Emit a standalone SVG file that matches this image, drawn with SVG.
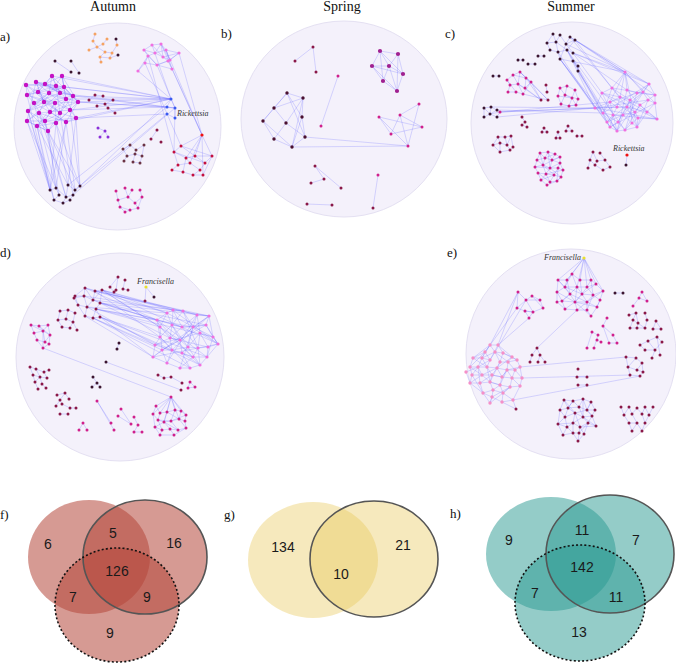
<svg xmlns="http://www.w3.org/2000/svg" width="676" height="664" viewBox="0 0 676 664">
<style>
.bg{fill:#f4f1fb;stroke:#e4e0f2;stroke-width:1}
.e{fill:none;stroke:#6767ff;stroke-opacity:.45;stroke-width:.55}
.n{fill:none;stroke-linecap:round}
.t{font-family:"Liberation Serif","Times New Roman",serif;font-size:13px;fill:#111}
.tm{font-family:"Liberation Serif","Times New Roman",serif;font-size:14px;fill:#111;text-anchor:middle}
.it{font-family:"Liberation Serif","Times New Roman",serif;font-style:italic;font-size:8px;fill:#333}
.v{font-family:"Liberation Sans",Arial,sans-serif;font-size:14px;fill:#1a1a1a;text-anchor:middle}
.mp{stroke:#c412c4;stroke-width:4.4}
.dk{stroke:#3b1530;stroke-width:3}
.br{stroke:#6b3344;stroke-width:3}
.mr{stroke:#8a1848;stroke-width:3}
.pk{stroke:#f070e0;stroke-width:3.2}
.or{stroke:#f5a262;stroke-width:3}
.rd{stroke:#c41040;stroke-width:3}
.rr{stroke:#f01010;stroke-width:3.2}
.bl{stroke:#3a5af0;stroke-width:3}
.pu{stroke:#8a30d8;stroke-width:3}
.mg{stroke:#d0208c;stroke-width:3}
.yl{stroke:#e8e030;stroke-width:3.2}
.lp{stroke:#f590c8;stroke-width:3.4}
.bp{stroke:#a02090;stroke-width:4.2}
.bd{stroke:#4a1030;stroke-width:3.4}
.f1{fill:#b5473a;fill-opacity:.55}
.y1{fill:#e8c85a;fill-opacity:.4}
.g1{fill:#2a9a92;fill-opacity:.5}
.ring{fill:none;stroke:#555;stroke-width:1.6}
.dash{fill:none;stroke:#111;stroke-width:1.6;stroke-dasharray:2 2.2}
</style>
<rect width="676" height="664" fill="#fff"/>

<g id="titles">
<text class="tm" x="113" y="11">Autumn</text>
<text class="tm" x="342" y="11">Spring</text>
<text class="tm" x="571" y="11">Summer</text>
<text class="t" x="0" y="41">a)</text>
<text class="t" x="221" y="38">b)</text>
<text class="t" x="445" y="38">c)</text>
<text class="t" x="0" y="257">d)</text>
<text class="t" x="447" y="257">e)</text>
<text class="t" x="0" y="519">f)</text>
<text class="t" x="224" y="519">g)</text>
<text class="t" x="450" y="518">h)</text>
</g>

<g id="panel-a">
<circle class="bg" cx="117.5" cy="126.5" r="103.5"/>
<g id="a-connectors">
<path class="e" d="M26,85L38,92L52,76L49,93L64,87L73,96L60,93L45,84L27,95L44,102L36,82L56,86L66,99L62,76L78,102L55,103L34,103L50,112L38,92L60,113L73,96L70,110L49,93L28,111L44,102L39,113L27,121L45,121L37,126L55,103L56,123L66,99L76,118L60,113L48,131L39,113L66,122L50,112L78,102L70,110L56,123L45,121L28,111L34,103L27,95L26,85L45,84L62,76L64,87L78,102L66,122L76,118L70,110L48,131L37,126L27,121L36,82L49,93L34,103L60,93L52,76L38,92L55,103L50,112L45,121L60,113L56,86L73,96L44,102L62,76M26,85L56,86L27,95L64,87L36,82L60,93L45,84L73,96M38,92L66,99M49,93L78,102M27,95L55,103M28,111L66,99M39,113L70,110M37,126L56,123M45,121L76,118M48,131L27,121M50,112L66,122M44,102L60,113M34,103L45,121M55,103L70,110M36,82L44,102M52,76L56,86M62,76L66,99M26,85L34,103M28,111L48,131M36,82L73,96M52,76L78,102M26,85L60,113M27,121L60,93M37,126L66,99"/>
<path class="e" d="M62,76L171,99M64,87L171,99M73,96L171,99M78,102L171,99M76,118L171,99M70,110L171,99M66,122L171,99M56,86L171,99M60,93L167,107M78,102L167,107M73,96L175,108M76,118L167,114M66,99L171,99M52,76L171,99M78,102L175,108M70,110L167,107"/>
<path class="e" d="M27,121L50,190M37,126L50,190M48,131L56,188M56,123L68,185M66,122L75,190M76,118L80,186M28,111L54,200M45,121L66,197M27,121L56,188M37,126L68,185M48,131L75,190M56,123L50,190M66,122L56,188M76,118L68,185M45,121L59,195M28,111L50,190M34,103L56,188M39,113L66,197M60,113L73,195M70,110L80,186M27,95L50,190M48,131L80,186M37,126L54,200M66,122L50,190M56,123L80,186M80,186L171,99M75,190L167,114M68,185L167,107M73,195L175,108"/>
<path class="e" d="M144,50L152,45L161,44L166,50L179,53L170,60L163,57L155,53L148,56L144,50L155,53L161,44L163,57L168,61L157,65L145,63L148,56L157,65L170,60L166,50L155,53M152,45L163,57L179,53L168,61L172,69L157,65M145,63L138,71L148,56M161,44L170,60M144,50L157,65M166,50L172,69M152,45L171,99M157,65L175,108M161,44L202,135M172,69L202,135M145,63L181,146M148,56L174,152M166,50L202,135M179,53L202,135M175,108L174,152M138,71L171,99"/>
<path class="e" d="M202,135L181,146L174,152L186,158L202,135L212,156L205,163L195,156L202,135L190,163L178,165L172,170L183,172L193,175L203,175L212,156M181,146L195,156L186,158L190,163L200,170L205,163M174,152L178,165M183,172L186,158M202,135L203,175M193,175L200,170M212,156L195,156M181,146L212,156M174,152L205,163"/>
<path class="e" d="M95,34L93,41L97,47L103,44L107,39M97,47L105,52L112,53L117,45L116,39M105,52L100,57L101,62M89,50L97,47M112,53L110,58L118,55M100,57L110,58M55,61L71,72M71,61L79,73M89,100L95,95L103,96M97,106L105,104L113,100M105,104L108,108L115,113M171,99L167,107L175,108L171,99M167,114L175,118M175,108L175,118M98,128L105,131L108,137M100,137L105,131M151,139L157,130M130,145L123,149L127,156L124,161M130,145L136,150L144,145L142,156L135,154L127,156M136,150L135,154L133,162L140,163L142,156M50,190L56,188L59,195L54,200L63,203L70,200L73,195L75,190L80,186M68,185L66,197L63,203M56,188L66,197L73,195M68,185L75,190M116,191L118,200L120,207L130,210L138,208L142,197L140,190M125,188L128,197L135,203L138,208M132,190L128,197L118,200M120,207L125,212L130,210M135,203L142,197"/>
</g>
<g id="a-nodes">
<path class="n mp" d="M26,85h0M36,82h0M45,84h0M52,76h0M62,76h0M56,86h0M64,87h0M27,95h0M38,92h0M49,93h0M60,93h0M73,96h0M34,103h0M44,102h0M55,103h0M66,99h0M78,102h0M28,111h0M39,113h0M50,112h0M60,113h0M70,110h0M27,121h0M37,126h0M45,121h0M56,123h0M66,122h0M76,118h0M48,131h0"/>
<path class="n or" d="M95,34h0M107,39h0M89,50h0M97,47h0M105,52h0M112,53h0M117,45h0M100,57h0M110,58h0M101,62h0M103,44h0M93,41h0"/>
<path class="n dk" d="M116,39h0M118,55h0M55,61h0M71,61h0M71,72h0M79,73h0M50,190h0M56,188h0M68,185h0M75,190h0M80,186h0M59,195h0M66,197h0M73,195h0M54,200h0M63,203h0M70,200h0"/>
<path class="n br" d="M123,149h0M130,145h0M136,150h0M144,145h0M127,156h0M135,154h0M142,156h0M124,161h0M133,162h0M140,163h0"/>
<path class="n mr" d="M89,100h0M95,95h0M103,96h0M113,100h0M97,106h0M105,104h0M108,108h0M115,113h0M151,139h0M157,130h0M161,142h0"/>
<path class="n pk" d="M144,50h0M152,45h0M161,44h0M166,50h0M179,53h0M148,56h0M155,53h0M163,57h0M170,60h0M145,63h0M157,65h0M168,61h0M138,71h0M172,69h0"/>
<path class="n rd" d="M181,146h0M212,156h0M174,152h0M186,158h0M195,156h0M205,163h0M178,165h0M190,163h0M200,170h0M172,170h0M183,172h0M193,175h0M203,175h0"/>
<path class="n rr" d="M202,135h0"/>
<path class="n bl" d="M171,99h0M167,107h0M175,108h0M167,114h0M175,118h0"/>
<path class="n pu" d="M98,128h0M105,131h0M100,137h0M108,137h0"/>
<path class="n mg" d="M116,191h0M125,188h0M132,190h0M140,190h0M118,200h0M128,197h0M135,203h0M142,197h0M120,207h0M130,210h0M138,208h0M125,212h0"/>
</g>
<text class="it" x="177" y="116">Rickettsia</text>
</g>

<g id="panel-b">
<ellipse class="bg" cx="344" cy="119" rx="103" ry="98"/>
<g id="b-connectors">
<path class="e" d="M313,47L295,61M313,47L316,72M338,76L321,126M380,51L398,54L403,74L397,91L383,81L372,66L380,51L389,66L397,91M372,66L389,66L403,74M380,51L383,81M398,54L389,66L383,81M372,66L397,91M398,54L397,91M372,66L403,74M380,51L403,74M287,93L303,98L302,117L305,137L292,147L274,139L263,121L287,93L274,108L303,98M263,121L274,108M287,93L305,137M303,98L292,147M303,98L286,123L274,139M274,108L286,123L305,137M263,121L292,147M302,117L292,147M287,93L302,117M419,104L400,115L391,134L379,117L408,146L400,115M379,117L422,127L391,134M419,104L408,146M400,115L422,127M305,137L408,146M292,147L408,146M315,166L341,188M315,166L324,179L311,183M307,204L332,205M378,175L373,208"/>
</g>
<g id="b-nodes">
<path class="n bp" d="M380,51h0M398,54h0M372,66h0M389,66h0M403,74h0M383,81h0M397,91h0"/>
<path class="n bd" d="M287,93h0M303,98h0M274,108h0M302,117h0M263,121h0M286,123h0M305,137h0M274,139h0M292,147h0"/>
<path class="n mr" d="M313,47h0M295,61h0M316,72h0M315,166h0M324,179h0M311,183h0M341,188h0M307,204h0M332,205h0M373,208h0"/>
<path class="n mg" d="M338,76h0M321,126h0M419,104h0M379,117h0M400,115h0M422,127h0M391,134h0M408,146h0M378,175h0"/>
</g>
</g>

<g id="panel-c">
<circle class="bg" cx="572" cy="123" r="101"/>
<g id="c-connectors">
<path class="e" d="M625,72L612,88L602,93L595,108L603,113L607,122L610,127L617,131L625,130L632,123L638,118L657,119L655,103L655,95L649,84L625,72L627,90L637,93L643,92L649,84M625,72L620,97L610,102L603,113L613,115L617,107L627,107L630,100L620,97L612,88L630,100L640,105L648,100L655,95M602,93L620,97L617,107L610,102L595,108M603,113L618,122L627,107L635,112L640,105L647,112L657,119M607,122L623,115L632,123L637,127L647,112L655,103M610,127L618,122L625,130L637,127L638,118L635,112L623,115L613,115L607,122M625,72L643,92L648,100L655,103M612,88L627,107L637,127M625,72L610,102L617,131M649,84L630,100L618,122M655,95L637,93L610,102M657,119L640,105L627,90M595,108L627,107L647,112M617,131L623,115L643,92M625,130L640,105M637,127L648,100M602,93L613,115L610,127M612,88L603,113M625,72L655,103M625,72L637,127M649,84L617,131M595,108L657,119M602,93L638,118M643,92L607,122M612,88L655,95M627,90L617,131M637,93L625,130M620,97L647,112M595,108L648,100M603,113L649,84M610,127L655,103M613,115L657,119M630,100L632,123M602,93L657,119"/>
<path class="e" d="M560,59L617,131M560,59L625,72M560,59L595,108M560,59L610,127M573,53L625,72M573,53L649,84M573,53L602,93M575,40L625,72M575,40L649,84M575,40L655,95M570,37L625,72M570,37L612,88M567,50L595,108M567,50L603,113M567,50L617,131M578,71L617,131M578,71L610,127M573,61L603,113M558,52L595,108M566,44L625,72M575,40L612,88M573,53L627,90M560,59L607,122M567,50L625,130"/>
<path class="e" d="M553,34L556,42L560,35L566,44L570,37L575,40L566,44L573,53L567,50L558,52L550,50L547,43L556,42L567,50M560,59L558,52L556,42M553,34L547,43M566,44L560,59M575,40L567,50M573,61L578,66L578,71"/>
<path class="e" d="M513,75L520,72L526,78L531,82L525,88L518,84L510,85L507,80L513,75L518,84L523,94L516,92L508,92L510,85M520,72L518,84M526,78L525,88M531,82L523,94M507,80L516,92M513,75L526,78M520,72L531,82L541,100M526,78L541,100M531,82L548,100M525,88L541,100M523,94L548,100M518,84L541,100M520,72L548,100M546,85L547,92M518,60L523,60M528,64L535,64M538,56L544,56M493,76L499,76"/>
<path class="e" d="M560,88L567,86L575,90L578,99L576,105L569,106L561,104L558,96L560,88L565,95L572,98L575,90M567,86L565,95L561,104M572,98L569,106M558,96L572,98L576,105M565,95L578,99"/>
<path class="e" d="M484,108L491,107L497,110L500,112L497,117L490,114L484,117L484,108L490,114L497,110M491,107L490,114L500,112M500,112L595,108M497,110L603,113M500,112L610,102M491,107L595,108M497,117L595,108M500,112L617,107"/>
<path class="e" d="M522,117L525,122L522,125L527,127M544,128L542,132L547,132ZM558,132L556,138L560,138ZM568,126L566,131L572,131ZM577,136L582,136M498,137L505,137L511,136L513,147L510,150L500,152L493,145L498,137L500,143L507,145L511,136M505,137L507,145L510,150M493,145L500,143L500,152"/>
<path class="e" d="M540,153L548,152L555,154L560,157L560,163L563,170L561,177L557,181L547,185L541,180L538,173L535,167L537,160L540,153L545,158L548,152L552,160L555,154M537,160L545,158L552,160L560,157M537,160L543,165L550,168L558,168L563,170M545,158L543,165L535,167M552,160L550,168L546,174L538,173M560,163L558,168L554,175L546,174L541,180M543,165L546,174L550,182L557,181L561,177L554,175L550,182M540,153L543,165L554,175M548,152L550,168L561,177M555,154L545,158M535,167L550,168M538,173L550,182M558,168L557,181M543,165L560,157M546,174L563,170M541,180L554,175M552,160L560,163L550,168"/>
<path class="e" d="M593,152L590,160L588,168M593,152L597,161L595,165L603,170L610,167L605,160L600,153M597,161L605,160M590,160L595,165M627,155L626,165"/>
</g>
<g id="c-nodes">
<path class="n pk" d="M625,72h0M649,84h0M655,95h0M655,103h0M657,119h0M638,118h0M625,130h0M617,131h0M595,108h0M602,93h0M612,88h0M627,90h0M637,93h0M630,100h0M620,97h0M610,102h0M617,107h0M627,107h0M640,105h0M648,100h0M603,113h0M613,115h0M623,115h0M635,112h0M647,112h0M607,122h0M618,122h0M632,123h0M610,127h0M637,127h0M643,92h0"/>
<path class="n dk" d="M553,34h0M560,35h0M570,37h0M547,43h0M556,42h0M566,44h0M575,40h0M550,50h0M558,52h0M567,50h0M573,53h0M560,59h0M573,61h0M578,66h0M578,71h0M518,60h0M523,60h0M528,64h0M535,64h0M538,56h0M544,56h0M493,76h0M499,76h0M484,108h0M491,107h0M497,110h0M484,117h0M490,114h0M497,117h0M626,165h0"/>
<path class="n mr" d="M546,85h0M547,92h0M541,100h0M548,100h0M498,137h0M505,137h0M511,136h0M493,145h0M500,143h0M507,145h0M513,147h0M500,152h0M510,150h0M593,152h0M600,153h0M590,160h0M597,161h0M605,160h0M588,168h0M595,165h0M603,170h0M610,167h0M522,117h0M525,122h0M522,125h0M527,127h0M544,128h0M542,132h0M547,132h0M558,132h0M556,138h0M560,138h0M568,126h0M566,131h0M572,131h0M577,136h0M582,136h0"/>
<path class="n mg" d="M507,80h0M513,75h0M520,72h0M526,78h0M510,85h0M518,84h0M525,88h0M531,82h0M508,92h0M516,92h0M523,94h0M560,88h0M567,86h0M575,90h0M558,96h0M565,95h0M572,98h0M578,99h0M561,104h0M569,106h0M576,105h0M500,112h0M540,153h0M548,152h0M555,154h0M560,157h0M537,160h0M545,158h0M552,160h0M560,163h0M535,167h0M543,165h0M550,168h0M558,168h0M563,170h0M538,173h0M546,174h0M554,175h0M561,177h0M541,180h0M550,182h0M557,181h0M547,185h0"/>
<path class="n rr" d="M627,155h0"/>
</g>
<text class="it" x="613" y="151">Rickettsia</text>
</g>

<g id="panel-d">
<circle class="bg" cx="120" cy="357" r="104"/>
<g id="d-connectors">
<path class="e" d="M173,310L183,311L197,315L209,316L206,325L213,337L218,344L208,347L207,357L200,365L190,368L180,368L167,363L153,357L155,345L160,337L157,320L167,313L173,310L172,325L182,327L193,327L200,333L208,347L198,348L188,347L180,340L170,338L160,327L157,320M167,313L160,327L162,350L172,350L182,353L193,357L207,357L218,344L213,337L200,333L188,347L182,353L190,368M173,310L182,327L198,348L193,357L180,368M183,311L193,327L206,325L218,344M197,315L200,333L198,348L200,365M209,316L213,337L207,357M172,325L170,338L172,350L167,363M160,337L172,350L188,347L193,327L209,316M155,345L170,338L182,327L197,315M153,357L162,350L180,340L193,327M157,320L182,327L206,325M167,313L172,325L180,340L182,353L200,365M183,311L172,325L160,337M162,350L167,363M173,310L209,316M155,345L200,333L218,344M153,357L218,344M157,320L207,357M167,313L213,337M160,327L193,357M183,311L198,348M197,315L180,368M209,316L172,350M206,325L162,350M170,338L208,347M172,325L188,347L200,365M160,337L190,368M155,345L193,357M173,310L218,344M157,320L200,365M153,357L209,316M167,363L197,315"/>
<path class="e" d="M85,288L173,310M95,291L183,311M102,290L173,310M102,290L197,315M102,290L167,313M100,303L157,320M100,303L209,316M96,309L160,327M100,317L160,337M93,318L155,345M100,317L153,357M96,309L157,320M95,291L209,316M87,307L167,313M85,316L153,357M93,300L157,320M100,303L182,327M102,290L218,344M100,317L200,365M96,309L213,337M95,291L160,337M93,318L190,368M84,296L173,310M100,303L206,325M102,290L160,327M96,309L193,327M100,317L172,350M85,288L157,320M93,300L183,311M87,307L155,345M100,317L207,357M102,290L180,340M95,291L167,313M100,303L170,338M93,318L162,350"/>
<path class="e" d="M85,288L95,291L102,290L100,303L96,309L100,317L93,318L85,316L78,305L75,296L85,288L84,296L93,300L100,303M95,291L93,300L87,307L78,305M84,296L87,307L96,309L93,318M75,296L84,296M85,288L93,300M87,307L85,316M102,290L93,300M74,298L84,296M74,298L78,305"/>
<path class="e" d="M118,277L110,287M118,277L116,290M125,280L123,289L128,290M110,287L114,292M146,287L145,301M146,287L154,297M60,311L68,310L75,313L73,322L77,330M60,311L58,320L66,319L68,310M66,319L73,322L70,328L62,327M58,320L62,327M31,325L39,326L48,325L50,335L49,344L43,348L37,340L34,333L31,325L43,331L48,325M39,326L43,331L45,342L49,344M34,333L43,331L50,335L45,342L37,340M39,326L50,335M43,331L43,348M43,348L171,397M106,362L181,390M119,343L117,349"/>
<path class="e" d="M30,367L36,369L44,372L49,370M30,367L33,375L40,377L47,378M36,369L40,377L42,384L46,388M33,375L35,382L38,389M40,377L35,382M44,372L47,378M93,377L97,383L92,387M97,383L100,387M158,375L164,378L171,377L182,383M190,382L188,388L195,387L190,382M57,395L65,393L60,400L56,406M65,393L69,399M60,400L62,404L70,408L76,408M60,414L68,414M97,401L111,423M97,401L114,430M121,409L131,424M118,416L131,424M134,417L138,425L134,432L142,432M83,423L79,430M83,423L87,430"/>
<path class="e" d="M171,397L156,406M171,397L160,413M171,397L167,412M171,397L175,410M171,397L181,411M171,397L186,415M171,397L153,414M171,397L164,422M171,397L179,419M156,406L153,414L155,427L160,435L174,435L186,428L185,421L186,415L181,411L175,410L167,412L160,413L156,406M153,414L158,420L164,422L171,421L179,419L185,421M160,413L158,420L162,430L170,429L178,430L186,428M167,412L164,422L170,429M175,410L171,421L178,430M181,411L179,419L186,428M155,427L162,430L160,435M170,429L174,435M158,420L171,421L186,415M164,422L178,430M167,412L179,419M155,427L164,422"/>
</g>
<g id="d-nodes">
<path class="n pk" d="M173,310h0M183,311h0M197,315h0M209,316h0M206,325h0M167,313h0M157,320h0M160,327h0M172,325h0M182,327h0M193,327h0M200,333h0M213,337h0M218,344h0M208,347h0M198,348h0M188,347h0M180,340h0M170,338h0M160,337h0M155,345h0M162,350h0M172,350h0M182,353h0M193,357h0M200,365h0M190,368h0M180,368h0M167,363h0M153,357h0M207,357h0"/>
<path class="n mr" d="M85,288h0M95,291h0M102,290h0M75,296h0M84,296h0M93,300h0M100,303h0M78,305h0M87,307h0M96,309h0M85,316h0M93,318h0M100,317h0M74,298h0M118,277h0M125,280h0M110,287h0M116,290h0M123,289h0M128,290h0M114,292h0M145,301h0M60,311h0M68,310h0M75,313h0M58,320h0M66,319h0M73,322h0M62,327h0M70,328h0M77,330h0M30,367h0M36,369h0M44,372h0M49,370h0M33,375h0M40,377h0M47,378h0M35,382h0M42,384h0M38,389h0M46,388h0M158,375h0M164,378h0M171,377h0M182,383h0M181,390h0M57,395h0M65,393h0M60,400h0M69,399h0M56,406h0M62,404h0M70,408h0M76,408h0M60,414h0M68,414h0"/>
<path class="n dk" d="M154,297h0M119,343h0M117,349h0M93,377h0M97,383h0M92,387h0M100,387h0M106,362h0"/>
<path class="n mg" d="M31,325h0M39,326h0M48,325h0M34,333h0M43,331h0M50,335h0M37,340h0M45,342h0M43,348h0M49,344h0M190,382h0M188,388h0M195,387h0M97,401h0M111,423h0M114,430h0M121,409h0M118,416h0M131,424h0M134,417h0M138,425h0M134,432h0M142,432h0M83,423h0M79,430h0M87,430h0M171,397h0M156,406h0M160,413h0M167,412h0M175,410h0M181,411h0M186,415h0M153,414h0M158,420h0M164,422h0M171,421h0M179,419h0M185,421h0M155,427h0M162,430h0M170,429h0M178,430h0M186,428h0M160,435h0M174,435h0"/>
<path class="n yl" d="M146,287h0"/>
</g>
<text class="it" x="137" y="284">Francisella</text>
</g>

<g id="panel-e">
<circle class="bg" cx="571" cy="354" r="105"/>
<g id="e-connectors">
<path class="e" d="M584,258L572,274M584,258L567,280M584,258L580,280M584,258L591,280M584,258L558,280M584,258L596,284M584,258L603,291M584,258L577,287M584,258L587,287M572,274L567,280L558,280L557,292L557,302L565,309L577,310L587,310L591,316L597,307L600,300L603,291L596,284L591,280L580,280L572,274L577,287L587,287L591,280M567,280L565,287L570,294L577,287L582,294L587,287L596,284M558,280L565,287L557,292L562,301L570,294L575,302L582,294L593,295L587,287M593,295L600,300L597,307L587,302L582,294M562,301L575,302L587,302L593,295L603,291M565,309L575,302L577,310L587,302L587,310M557,302L562,301L565,309M570,294L562,301M580,280L582,294L575,302M591,280L593,295L587,310M572,274L565,287L577,287M567,280L570,294L587,302M558,280L570,294M577,287L575,302L591,316M596,284L582,294M603,291L587,302M565,287L582,294M557,292L575,302L597,307"/>
<path class="e" d="M518,292L526,300L532,296L540,300L543,308L533,312L525,311L517,308L526,300L533,312L529,318L525,311M518,292L517,308M532,296L543,308M526,300L540,300M525,311L533,312M518,292L490,345M518,292L498,345M517,308L485,352M526,300L495,352M529,318L498,345M537,348L577,310M537,348L532,355L530,362M537,348L540,355L538,362M540,355L545,362"/>
<path class="e" d="M490,345L498,345L503,353L512,357L517,360L520,367L522,378L520,386L510,387L503,393L513,400L502,402L492,397L490,403L483,393L480,383L470,383L472,375L470,367L473,358L485,352L490,345L495,352L503,353M485,352L482,358L490,360L495,352L500,362L508,362L512,357M473,358L482,358L478,367L487,367L490,360M470,367L478,367L482,375L492,375L497,368L500,362M487,367L497,368L507,370L515,370L520,367M508,362L507,370L502,377L492,375L490,382L480,383M472,375L482,375L490,382L500,385L502,377L512,378L522,378M515,370L512,378L510,387L500,385L493,390L483,393M470,383L483,393L492,397L493,390L490,382M500,385L503,393L493,390M512,378L520,386M502,402L503,393L510,387M490,345L482,358L487,367L492,375L502,377L507,370M498,345L490,360L478,367L472,375M495,352L508,362L515,370M503,353L500,362L497,368L490,382L500,385M517,360L508,362M473,358L487,367M470,367L482,375M485,352L490,360M480,383L492,375M470,383L482,375L497,368L512,357M490,403L503,393M492,397L510,387M513,400L520,386M520,367L507,370L500,385M498,345L512,357M490,345L473,358M478,367L480,383M487,367L490,382M497,368L502,377M507,370L512,378M515,370L522,378M503,353L517,360M482,358L495,352M485,352L470,367M472,375L483,393M490,403L492,397M466,372L478,367M466,372L470,383M520,367L626,357M522,378L630,375M513,400L640,376M516,409L513,400M516,409L502,402"/>
<path class="e" d="M615,293L623,293M642,292L639,298L647,301L642,292M639,298L633,306M607,318L603,326L609,343M603,326L613,335L617,343L609,343M598,335L592,332L587,348M598,335L594,348M601,342L597,340M636,313L629,315M636,313L633,320L630,328M636,313L638,323L637,328M645,313L647,320L645,328M633,320L645,328M630,328L645,328M656,321L653,329L661,329L656,321M640,345L648,341L657,337L662,342L655,350L645,350L640,345M648,341L655,350L652,358M657,337L660,355M626,357L636,358L642,363L643,372L640,376L630,375L628,367L626,357M636,358L628,367L637,370L643,372M642,363L637,370M577,377L587,377M578,385L587,385"/>
<path class="e" d="M564,400L573,401L583,399L591,402L595,410L592,416L596,426L588,423L584,434L578,441L573,433L563,435L558,424L560,410L564,400L568,408L573,401L579,407L583,399L587,410L591,402M560,410L568,408L579,407L587,410L595,410M560,410L565,417L575,413L568,408M565,417L558,424L567,427L573,423L575,413L583,417L579,407M583,417L592,416L587,410M573,423L580,427L588,423L592,416M567,427L563,435M567,427L573,433L579,433L580,427L584,434M583,417L588,423M575,413L580,427M564,400L575,413L587,410M573,401L568,408L565,417M583,399L583,417L596,426M591,402L587,410L592,416M558,424L573,423L583,417M565,417L567,427M579,433L578,441M573,433L573,423M580,427L596,426M588,423L579,433"/>
<path class="e" d="M621,407L624,415L629,423L632,431M629,407L624,415M629,407L632,414L637,423L632,431M637,408L632,414M637,408L642,414L645,423L642,431M645,407L642,414M645,407L649,415L645,423M653,407L649,415M637,423L642,431M629,423L637,423"/>
</g>
<g id="e-nodes">
<path class="n mg" d="M572,274h0M567,280h0M580,280h0M591,280h0M558,280h0M596,284h0M603,291h0M577,287h0M587,287h0M565,287h0M557,292h0M570,294h0M582,294h0M593,295h0M600,300h0M562,301h0M575,302h0M587,302h0M565,309h0M577,310h0M587,310h0M597,307h0M591,316h0M557,302h0M518,292h0M526,300h0M532,296h0M540,300h0M517,308h0M525,311h0M533,312h0M543,308h0M529,318h0M607,318h0M603,326h0M613,335h0M617,343h0M609,343h0M598,335h0M592,332h0M587,348h0M594,348h0M601,342h0M597,340h0M642,292h0M639,298h0M647,301h0M633,306h0"/>
<path class="n lp" d="M490,345h0M498,345h0M485,352h0M495,352h0M503,353h0M512,357h0M517,360h0M473,358h0M482,358h0M490,360h0M500,362h0M508,362h0M520,367h0M470,367h0M478,367h0M487,367h0M497,368h0M507,370h0M515,370h0M472,375h0M482,375h0M492,375h0M502,377h0M512,378h0M522,378h0M470,383h0M480,383h0M490,382h0M500,385h0M510,387h0M520,386h0M483,393h0M493,390h0M503,393h0M492,397h0M502,402h0M513,400h0M490,403h0M466,372h0"/>
<path class="n mr" d="M564,400h0M573,401h0M583,399h0M591,402h0M560,410h0M568,408h0M579,407h0M587,410h0M595,410h0M565,417h0M575,413h0M583,417h0M592,416h0M558,424h0M567,427h0M573,423h0M580,427h0M588,423h0M596,426h0M563,435h0M573,433h0M579,433h0M584,434h0M578,441h0M516,409h0M537,348h0M532,355h0M540,355h0M530,362h0M538,362h0M545,362h0M636,313h0M629,315h0M645,313h0M633,320h0M638,323h0M647,320h0M630,328h0M637,328h0M645,328h0M656,321h0M653,329h0M661,329h0M640,345h0M648,341h0M657,337h0M662,342h0M645,350h0M655,350h0M660,355h0M652,358h0M626,357h0M636,358h0M642,363h0M628,367h0M637,370h0M643,372h0M630,375h0M640,376h0M578,369h0M577,377h0M587,377h0M578,385h0M587,385h0M621,407h0M629,407h0M637,408h0M645,407h0M653,407h0M624,415h0M632,414h0M642,414h0M649,415h0M629,423h0M637,423h0M645,423h0M632,431h0M642,431h0"/>
<path class="n dk" d="M615,293h0M623,293h0"/>
<path class="n yl" d="M584,258h0"/>
</g>
<text class="it" x="544" y="260">Francisella</text>
</g>

<g id="venn-f">
<ellipse class="f1" cx="89" cy="557" rx="61" ry="57"/>
<ellipse class="f1" cx="145" cy="557" rx="62" ry="57"/>
<ellipse class="f1" cx="117" cy="605" rx="62" ry="57"/>
<ellipse class="ring" cx="145" cy="557" rx="62" ry="57"/>
<ellipse class="dash" cx="117" cy="605" rx="62" ry="57"/>
<text class="v" x="48" y="549">6</text>
<text class="v" x="113" y="538">5</text>
<text class="v" x="174" y="548">16</text>
<text class="v" x="117" y="576">126</text>
<text class="v" x="73" y="602">7</text>
<text class="v" x="147" y="602">9</text>
<text class="v" x="110" y="638">9</text>
</g>

<g id="venn-g">
<ellipse class="y1" cx="313" cy="560" rx="65" ry="58"/>
<ellipse class="y1" cx="374" cy="559" rx="64" ry="58"/>
<ellipse class="ring" cx="374" cy="559" rx="64" ry="58"/>
<text class="v" x="283" y="552">134</text>
<text class="v" x="403" y="550">21</text>
<text class="v" x="341" y="579">10</text>
</g>

<g id="venn-h">
<ellipse class="g1" cx="551" cy="554" rx="65" ry="57"/>
<ellipse class="g1" cx="610" cy="554" rx="64" ry="59"/>
<ellipse class="g1" cx="580" cy="603" rx="65" ry="58"/>
<ellipse class="ring" cx="610" cy="554" rx="64" ry="59"/>
<ellipse class="dash" cx="580" cy="603" rx="65" ry="58"/>
<text class="v" x="509" y="545">9</text>
<text class="v" x="582" y="535">11</text>
<text class="v" x="636" y="545">7</text>
<text class="v" x="582" y="572">142</text>
<text class="v" x="535" y="598">7</text>
<text class="v" x="616" y="602">11</text>
<text class="v" x="579" y="637">13</text>
</g>
</svg>
